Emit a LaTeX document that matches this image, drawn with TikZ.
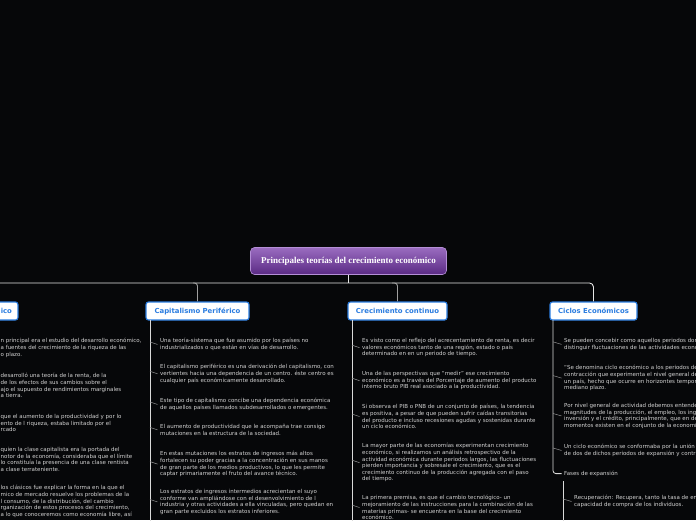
\documentclass[tikz,border=0pt]{standalone}
\usepackage{fontspec}
\setmainfont{DejaVu Sans}
\newfontfamily\titlefont{Liberation Serif}
\newfontfamily\boxfont{DejaVu Sans}
\definecolor{bgcol}{HTML}{060709}
\definecolor{topicblue}{HTML}{2B7DE0}
\definecolor{txtgray}{HTML}{D2D2D2}
\definecolor{purpletop}{HTML}{9A6CC0}
\definecolor{purplebot}{HTML}{5A2A84}
\definecolor{purpleedge}{HTML}{B48ED6}
\tikzset{
  mainline/.style={draw=white!90!black, line width=0.9pt},
  branch/.style={draw=gray!75, line width=0.9pt, rounded corners=3pt},
  vline/.style={draw=white!85!black, line width=0.8pt},
  hook/.style={draw=gray!85, line width=0.5pt},
  topic/.style={draw=topicblue, fill=white, line width=1.1pt, rounded corners=2.5pt,
    text=topicblue, font=\boxfont\bfseries\fontsize{6.9}{8}\selectfont,
    minimum height=18pt, inner sep=2pt},
  txt/.style={anchor=north west, align=left, inner sep=0pt, text=txtgray,
    font=\fontsize{5.5}{6.6}\selectfont,
    execute at begin node={\rule{0pt}{5.3pt}}},
  titlebox/.style={draw=purpleedge, line width=0.6pt, rounded corners=4pt,
    top color=purpletop, bottom color=purplebot, text=white,
    font=\titlefont\bfseries\fontsize{9}{10}\selectfont,
    minimum width=196pt, minimum height=27pt, inner sep=2pt}
}
\begin{document}
\begin{tikzpicture}[x=1pt,y=-1pt]
\useasboundingbox (0,0) rectangle (696,520);
\fill[bgcol] (0,0) rectangle (696,520);
\clip (0,0) rectangle (696,520);

% title
\node[titlebox] (title) at (348.5,261) {Principales teorías del crecimiento económico};

% topic boxes
\node[topic, anchor=east, inner xsep=6pt] (t0) at (18.5,311) {\hspace*{30pt}ico};
\node[topic, minimum width=103pt] (t1) at (197.5,311) {Capitalismo Periférico};
\node[topic, minimum width=99pt] (t2) at (397.5,311) {Crecimiento continuo};
\node[topic, minimum width=87pt] (t3) at (593.5,311) {Ciclos Económicos};

% main connectors
\coordinate (hl) at (-3,283);
\draw[mainline] (title.south) -- (title.south |- hl);
\draw[mainline, rounded corners=4pt] (hl) -| (t3.north);
\coordinate (j1) at (193,283);
\coordinate (j2) at (392,283);
\draw[branch] (j1) -| (t1.north);
\draw[branch] (j2) -| (t2.north);

% vertical lines under boxes
\coordinate (v1) at (150,320);
\coordinate (v2) at (352,320);
\coordinate (v3) at (553,320);
\coordinate (v1e) at (150,525);
\coordinate (v2e) at (352,525);
\draw[vline] (v1) -- (v1e);
\draw[vline] (v2) -- (v2e);

% left column (cut by the page edge)
\node[txt] (l1) at (0.5,338.2) {n principal era el estudio del desarrollo económico,\\a fuentes del crecimiento de la riqueza de las\\o plazo.};
\node[txt] (l2) at (0.5,373.2) {desarrolló una teoría de la renta, de la\\de los efectos de sus cambios sobre el\\ajo el supuesto de rendimientos marginales\\a tierra.};
\node[txt] (l3) at (0.5,414.2) {que el aumento de la productividad y por lo\\ento de l riqueza, estaba limitado por el\\rcado};
\node[txt] (l4) at (0.5,447.2) {quien la clase capitalista era la portada del\\notor de la economía, consideraba que el límite\\lo constituía la presencia de una clase rentista\\a clase terrateniente.};
\node[txt] (l5) at (0.5,485.2) {los clásicos fue explicar la forma en la que el\\mico de mercado resuelve los problemas de la\\l consumo, de la distribución, del cambio\\rganización de estos procesos del crecimiento,\\a lo que conoceremos como economía libre, así};

% Capitalismo Periférico
\node[txt] (c1) at (160,338.2) {Una teoría-sistema que fue asumido por los países no\\industrializados o que están en vías de desarrollo.};
\node[txt] (c2) at (160,364.2) {El capitalismo periférico es una derivación del capitalismo, con\\vertientes hacia una dependencia de un centro. éste centro es\\cualquier país económicamente desarrollado.};
\node[txt] (c3) at (160,398.2) {Este tipo de capitalismo concibe una dependencia económica\\de aquellos países llamados subdesarrollados o emergentes.};
\node[txt] (c4) at (160,424.2) {El aumento de productividad que le acompaña trae consigo\\mutaciones en la estructura de la sociedad.};
\node[txt] (c5) at (160,451.2) {En estas mutaciones los estratos de ingresos más altos\\fortalecen su poder gracias a la concentración en sus manos\\de gran parte de los medios productivos, lo que les permite\\captar primariamente el fruto del avance técnico.};
\node[txt] (c6) at (160,489.2) {Los estratos de ingresos intermedios acrecientan el suyo\\conforme van ampliándose con el desenvolvimiento de l\\industria y otras actividades a ella vinculadas, pero quedan en\\gran parte excluidos los estratos inferiores.};
\foreach \n in {c1,c2,c3,c4,c5,c6}
  \draw[hook] ([yshift=2.5pt]v1 |- \n.west) .. controls +(3,0) and +(-3,0) .. ([xshift=-2.5pt]\n.west);

% Crecimiento continuo
\node[txt] (k1) at (362,338.2) {Es visto como el reflejo del acrecentamiento de renta, es decir\\valores económicos tanto de una región, estado o país\\determinado en en un periodo de tiempo.};
\node[txt] (k2) at (362,371.2) {Una de las perspectivas que “medir” ese crecimiento\\económico es a través del Porcentaje de aumento del producto\\interno bruto PIB real asociado a la productividad.};
\node[txt] (k3) at (362,404.2) {Si observa el PIB o PNB de un conjunto de países, la tendencia\\es positiva, a pesar de que pueden sufrir caídas transitorias\\del producto e incluso recesiones agudas y sostenidas durante\\un ciclo económico.};
\node[txt] (k4) at (362,443.2) {La mayor parte de las economías experimentan crecimiento\\económico, si realizamos un análisis retrospectivo de la\\actividad económica durante periodos largos, las fluctuaciones\\pierden importancia y sobresale el crecimiento, que es el\\crecimiento continuo de la producción agregada con el paso\\del tiempo.};
\node[txt] (k5) at (362,495.2) {La primera premisa, es que el cambio tecnológico- un\\mejoramiento de las instrucciones para la combinación de las\\materias primas- se encuentra en la base del crecimiento\\económico.};
\foreach \n in {k1,k2,k3,k4,k5}
  \draw[hook] ([yshift=2.5pt]v2 |- \n.west) .. controls +(3,0) and +(-3,0) .. ([xshift=-2.5pt]\n.west);

% Ciclos Economicos
\node[txt] (z1) at (564,338.2) {Se pueden concebir como aquellos periodos donde se\\distinguir fluctuaciones de las actividades económicas.};
\node[txt] (z2) at (564,365.2) {“Se denomina ciclo económico a los periodos de expansión\\contracción que experimenta el nivel general de actividad\\un país, hecho que ocurre en horizontes temporales de\\mediano plazo.};
\node[txt] (z3) at (564,403.2) {Por nivel general de actividad debemos entender las\\magnitudes de la producción, el empleo, los ingresos,\\inversión y el crédito, principalmente, que en determinados\\momentos existen en el conjunto de la economía.};
\node[txt] (z4) at (564,444.2) {Un ciclo económico se conformaba por la unión de\\de dos de dichos periodos de expansión y contracción.};
\node[txt] (fases) at (564,470.2) {Fases de expansión};
\node[txt] (rec) at (574,495.2) {Recuperación: Recupera, tanto la tasa de empleo\\capacidad de compra de los individuos.};
\draw[vline, rounded corners=3pt] (v3) |- ([xshift=-2.5pt]fases.west);
\foreach \n in {z1,z2,z3,z4}
  \draw[hook] ([yshift=2.5pt]v3 |- \n.west) .. controls +(3,0) and +(-3,0) .. ([xshift=-2.5pt]\n.west);
\coordinate (v4) at (563,481);
\coordinate (v4e) at (563,525);
\draw[vline] (v4) -- (v4e);
\draw[hook] ([yshift=2.5pt]v4 |- rec.west) .. controls +(3,0) and +(-3,0) .. ([xshift=-2.5pt]rec.west);
\end{tikzpicture}
\end{document}
